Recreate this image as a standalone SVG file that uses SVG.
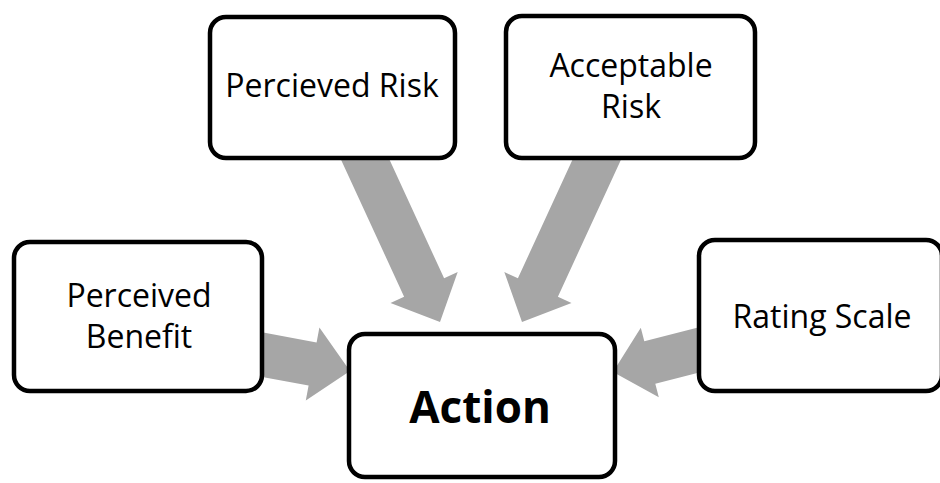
<svg xmlns="http://www.w3.org/2000/svg" width="940" height="483" viewBox="0 0 940 483">
<style>
.arrow{fill:#A6A6A6;stroke:none}
.box{fill:#FFFFFF;stroke:#000000;stroke-width:4.5}
.lbl{font-family:"Open Sans","Noto Sans","Liberation Sans",sans-serif;font-size:32px;fill:#000000;text-anchor:middle}
.big{font-family:"Open Sans","Noto Sans","Liberation Sans",sans-serif;font-size:44px;font-weight:bold;fill:#000000;text-anchor:middle}
</style>
<rect x="0" y="0" width="940" height="483" fill="#FFFFFF"/>
<g id="connectors">
<polygon class="arrow" points="376.2,130.8 444.1,278.3 457.7,272.0 440,322 390.5,303.0 404.1,296.7 336.2,149.2"/>
<polygon class="arrow" points="585.8,130.8 517.9,278.3 504.3,272.0 522,322 571.5,303.0 557.9,296.7 625.8,149.2"/>
<polygon class="arrow" points="244.0,328.9 316.6,342.4 319.4,327.6 350,371 305.8,400.4 308.6,385.6 236.0,372.1"/>
<polygon class="arrow" points="719.5,321.9 644.3,341.2 640.8,327.7 613,372 658.8,397.3 655.3,383.8 730.5,364.5"/>
</g>
<g id="percieved-risk">
<rect class="box" x="210" y="17" width="245" height="141" rx="16"/>
<text class="lbl" x="332" y="97">Percieved Risk</text>
</g>
<g id="acceptable-risk">
<rect class="box" x="506" y="16" width="249" height="142" rx="16"/>
<text class="lbl" x="631" y="77">Acceptable</text>
<text class="lbl" x="631" y="118">Risk</text>
</g>
<g id="perceived-benefit">
<rect class="box" x="14" y="242" width="248" height="149" rx="16"/>
<text class="lbl" x="139" y="307">Perceived</text>
<text class="lbl" x="139" y="348">Benefit</text>
</g>
<g id="rating-scale">
<rect class="box" x="699" y="240" width="243" height="151" rx="16"/>
<text class="lbl" x="822" y="328">Rating Scale</text>
</g>
<g id="action">
<rect class="box" x="349" y="334" width="266" height="143" rx="16"/>
<text class="big" x="480" y="423">Action</text>
</g>
</svg>
